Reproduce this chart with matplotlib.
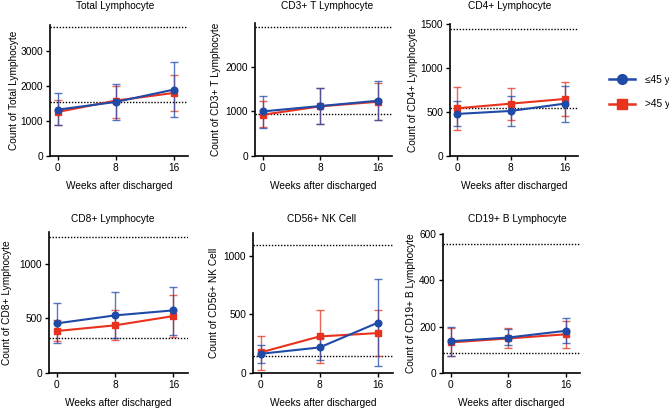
import matplotlib
matplotlib.use("Agg")
import matplotlib.pyplot as plt
from matplotlib.lines import Line2D
import numpy as np

plt.rcParams['font.family'] = ['Liberation Sans', 'DejaVu Sans']

weeks = [0, 8, 16]
groups = ["≤45 y", ">45 y"]
titles = ["Total Lymphocyte", "CD3+ T Lymphocyte", "CD4+ Lymphocyte",
          "CD8+ Lymphocyte", "CD56+ NK Cell", "CD19+ B Lymphocyte"]
ylabels = ["Count of Total Lymphocyte", "Count of CD3+ T Lymphocyte", "Count of CD4+ Lymphocyte",
           "Count of CD8+ Lymphocyte", "Count of CD56+ NK Cell", "Count of CD19+ B Lymphocyte"]

# means, lower ends, upper ends of error bars  (young = ≤45 y, old = >45 y)
young_mean = [[1330, 1550, 1904], [997, 1117, 1236], [478, 512, 595],
              [454, 527, 573], [164, 218, 431], [137, 153, 182]]
young_low = [[880, 1033, 1110], [622, 712, 802], [339, 343, 392],
             [271, 317, 351], [85, 107, 57], [72, 120, 128]]
young_high = [[1809, 2057, 2699], [1348, 1528, 1679], [621, 682, 801],
              [640, 741, 786], [238, 300, 803], [200, 188, 236]]
old_mean = [[1263, 1589, 1809], [922, 1110, 1213], [542, 595, 648],
            [384, 436, 521], [176, 312, 341], [132, 149, 167]]
old_low = [[880, 1081, 1292], [640, 712, 802], [301, 414, 456],
           [293, 299, 329], [28, 85, 147], [72, 106, 110]]
old_high = [[1608, 2000, 2316], [1236, 1520, 1625], [779, 772, 840],
            [482, 580, 716], [312, 537, 540], [193, 193, 224]]
ref_low = [1541, 944, 546, 324, 147, 87]
ref_high = [3713, 2885, 1441, 1243, 1093, 558]
ymax = [3760, 2975, 1500, 1290, 1195, 600]
yticks = [[0, 1000, 2000, 3000], [0, 1000, 2000], [0, 500, 1000, 1500],
          [0, 500, 1000], [0, 500, 1000], [0, 200, 400, 600]]

W, H = 669, 408
fig = plt.figure(figsize=(W / 100, H / 100), dpi=100)

# axes boxes in pixels: left, top, right, bottom
boxes = [(50, 25, 188, 156), (255, 23, 392, 156), (450, 24, 578, 156),
         (49, 232, 188, 373), (253, 233, 393, 373), (443, 234, 580, 373)]
title_pos = [(115, 6), (327, 6), (510, 6), (113, 219), (322, 219), (517, 219)]
ylabel_x = [14, 216, 413, 7, 214, 411]

blue = "#1f4aa8"
red = "#e8321e"
fs = 7.3

for i in range(6):
    l, t, r, b = boxes[i]
    ax = fig.add_axes([l / W, 1 - b / H, (r - l) / W, (b - t) / H])
    ax.set_xlim(-1.05, 18)
    ax.set_ylim(0, ymax[i])
    for y in (ref_low[i], ref_high[i]):
        ax.axhline(y, color="black", ls=(0, (1, 1.2)), lw=1.0, zorder=1)
    for mean, lo, hi, col, mk in [(old_mean[i], old_low[i], old_high[i], red, "s"),
                                  (young_mean[i], young_low[i], young_high[i], blue, "o")]:
        m = np.array(mean)
        yerr = [m - np.array(lo), np.array(hi) - m]
        ax.errorbar(weeks, m, yerr=yerr, fmt="none", ecolor=col, elinewidth=1.0,
                    capsize=3, capthick=1.0, alpha=0.75, zorder=2)
        ax.plot(weeks, m, color=col, lw=1.5, marker=mk, markersize=4.8, zorder=3)
    ax.spines['top'].set_visible(False)
    ax.spines['right'].set_visible(False)
    for s in ('left', 'bottom'):
        ax.spines[s].set_linewidth(1.2)
    ax.set_xticks(weeks)
    ax.set_yticks(yticks[i])
    ax.tick_params(labelsize=fs, length=3, width=1.0, pad=2)
    ax.set_xlabel("Weeks after discharged", fontsize=fs, labelpad=6)
    ax.set_ylabel(ylabels[i], fontsize=fs, va="center")
    ax.yaxis.set_label_coords((ylabel_x[i] - l) / (r - l), 0.5)
    fig.text(title_pos[i][0] / W, 1 - title_pos[i][1] / H, titles[i],
             fontsize=fs, ha="center", va="center")

handles = [Line2D([], [], color=blue, marker="o", lw=1.8, markersize=7),
           Line2D([], [], color=red, marker="s", lw=1.8, markersize=7)]
fig.legend(handles, groups, loc="center left", bbox_to_anchor=(600 / W, 1 - 92 / H),
           frameon=False, fontsize=fs, handlelength=2.6, labelspacing=1.4, handletextpad=0.9)

fig.savefig("out.png", dpi=100)
